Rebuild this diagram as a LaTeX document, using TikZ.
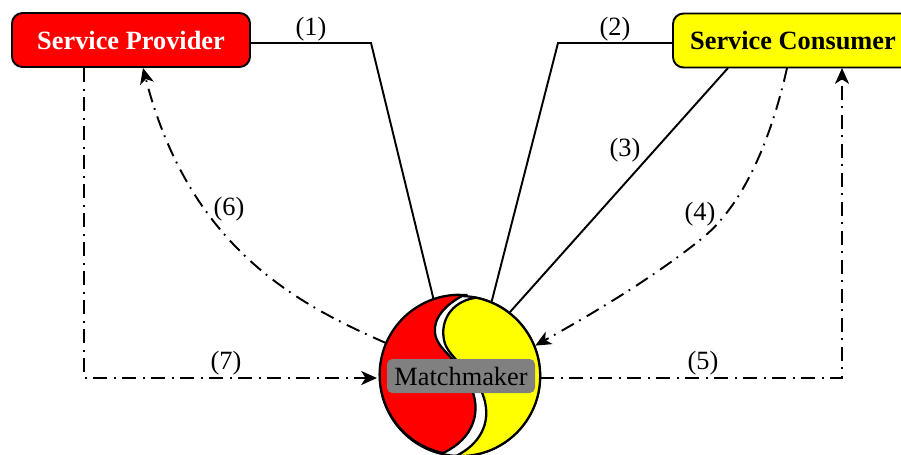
\documentclass[tikz,border=0pt]{standalone}
\usepackage{fontspec}
\setmainfont{Liberation Serif}
\usetikzlibrary{arrows.meta}
\definecolor{pureyellow}{RGB}{255,255,0}
\definecolor{purered}{RGB}{255,0,0}
\tikzset{
  agentbox/.style={draw=black, line width=1.1pt, rounded corners=6pt, minimum width=238*0.02cm, minimum height=54*0.02cm, font=\fontsize{15}{17}\selectfont\bfseries},
  solidlink/.style={line width=1.1pt},
  dashlink/.style={line width=1.1pt, dash pattern=on 8pt off 4pt on 1pt off 3.5pt, -{Stealth[length=9pt,width=8pt,inset=2.5pt]}},
  steplabel/.style={font=\fontsize{15}{17}\selectfont, inner sep=1pt},
}
\begin{document}
\begin{tikzpicture}[x=0.02cm, y=-0.02cm]
\useasboundingbox (0,0) rectangle (901,454);
\clip (0,0) rectangle (901,454);
% the two-coloured ball
\node (ball) [circle, draw=black, fill=white, line width=1.3pt, minimum size=160*0.02cm, inner sep=0pt] at (460,376) {};
\filldraw[fill=purered, draw=black, line width=1.3pt]
  (464,295) .. controls (446,304) and (433,318) .. (435,333)
  .. controls (437,350) and (458,358) .. (470,385)
  .. controls (482,410) and (475,438) .. (443,453)
  arc[start angle=258, end angle=92, radius=80*0.02cm] -- cycle;
\filldraw[fill=pureyellow, draw=black, line width=1.3pt]
  (474,298) .. controls (452,302) and (440,320) .. (444,340)
  .. controls (447,358) and (476,372) .. (484,398)
  .. controls (492,425) and (478,445) .. (456,456)
  arc[start angle=267, end angle=440, radius=80*0.02cm] -- cycle;
\node (mm) [fill=black!50, rounded corners=3pt, minimum width=148*0.02cm, minimum height=34*0.02cm, inner sep=0pt, font=\fontsize{15}{17}\selectfont] at (461,376) {Matchmaker};
% the two parties
\node (provider) [agentbox, fill=purered, text=white] at (131,40) {Service Provider};
\node (consumer) [agentbox, fill=pureyellow, anchor=west, minimum width=240*0.02cm] at (672,40.5) {Service Consumer};
\coordinate (provright) at (250,43);
\coordinate (provout) at (84,68);
\coordinate (provin) at (143,68);
\coordinate (consleft) at (672,43);
\coordinate (consa) at (728,68);
\coordinate (consb) at (787,68);
\coordinate (consin) at (842,68);
\coordinate (mmin) at (377,378);
\coordinate (mmout) at (540,378);
% solid links
\draw[solidlink] (provright) -- (371,43) -- (ball.109);
\draw[solidlink] (consleft) -- (558,43) -- (ball.67);
\draw[solidlink] (consa) -- (ball.52);
% dash-dotted links
\draw[dashlink] (consb) .. controls (772,135) and (745,205) .. (700,240) .. controls (650,280) and (590,315) .. (ball.22);
\draw[dashlink] (mmout) -- (842,378) -- (consin);
\draw[dashlink] (ball.156) .. controls (300,305) and (190,250) .. (provin);
\draw[dashlink] (provout) -- (84,378) -- (mmin);
% labels
\node (l1) [steplabel] at (311,29.5) {(1)};
\node (l2) [steplabel] at (615,29.5) {(2)};
\node (l3) [steplabel] at (625,150.5) {(3)};
\node (l4) [steplabel] at (700,214.5) {(4)};
\node (l5) [steplabel] at (703,363.5) {(5)};
\node (l6) [steplabel] at (229,209.5) {(6)};
\node (l7) [steplabel] at (226,363.5) {(7)};
\end{tikzpicture}
\end{document}
